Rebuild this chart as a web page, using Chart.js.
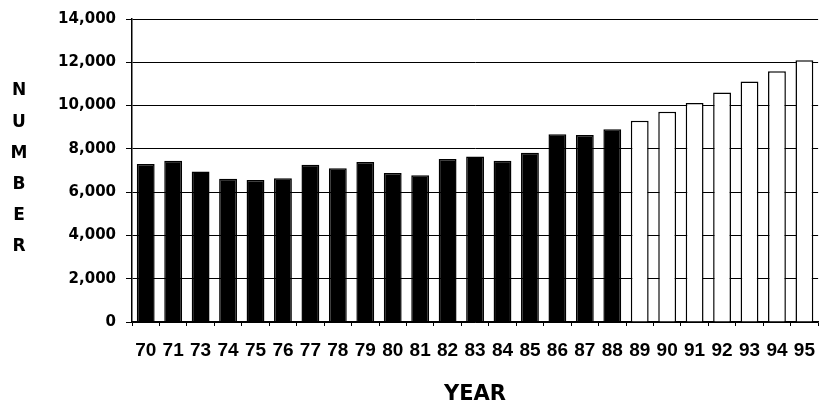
<!DOCTYPE html>
<html>
<head>
<meta charset="utf-8">
<script src="https://cdn.jsdelivr.net/npm/chart.js@4/dist/chart.umd.min.js"></script>
<style>
  html, body { margin: 0; padding: 0; background: #fff; }
  #wrap { width: 828px; height: 410px; position: relative; }
</style>
</head>
<body>
<div id="wrap"><canvas id="c" width="828" height="410"></canvas></div>
<script>
// Data
const years = ['70','71','73','74','75','76','77','78','79','80','81','82','83','84','85','86','87','88','89','90','91','92','93','94','95'];
const values = [7300,7450,6950,6620,6560,6640,7270,7100,7390,6890,6780,7530,7650,7450,7820,8670,8640,8910,9300,9710,10120,10600,11110,11590,12090];
const firstProjectedYear = '89';
const yTicks = [0,2000,4000,6000,8000,10000,12000,14000];
const yTitleLetters = ['N','U','M','B','E','R'];
const xTitle = 'YEAR';

const projStart = years.indexOf(firstProjectedYear);
const fills = years.map((y, i) => i >= projStart ? '#ffffff' : '#000000');

const stackedTitle = {
  id: 'stackedTitle',
  afterDraw(chart) {
    const ctx = chart.ctx;
    ctx.save();
    ctx.fillStyle = '#000';
    ctx.font = 'bold 17px "DejaVu Sans"';
    ctx.textAlign = 'center';
    ctx.textBaseline = 'middle';
    const top = 91, bottom = 247;
    const step = (bottom - top) / (yTitleLetters.length - 1);
    yTitleLetters.forEach((l, i) => ctx.fillText(l, 19, top + i * step));
    ctx.restore();
  }
};

new Chart(document.getElementById('c'), {
  type: 'bar',
  data: {
    labels: years,
    datasets: [{
      data: values,
      backgroundColor: fills,
      borderColor: '#000',
      borderWidth: 1.5,
      barPercentage: 0.65,
      categoryPercentage: 1.0
    }]
  },
  options: {
    responsive: false,
    animation: false,
    layout: { padding: { top: 18, right: 2, bottom: 0, left: 0 } },
    plugins: { legend: { display: false }, tooltip: { enabled: false } },
    scales: {
      x: {
        grid: { display: true, drawOnChartArea: false, drawTicks: true, tickLength: 4, color: '#000', offset: true },
        border: { display: true, color: '#000', width: 1.5 },
        ticks: { color: '#000', font: { family: 'Liberation Sans', weight: 'bold', size: 19 }, padding: 13, maxRotation: 0, autoSkip: false },
        title: { display: true, text: xTitle, color: '#000', font: { family: 'DejaVu Sans', weight: 'bold', size: 21 }, padding: { top: 0, bottom: 3 } },
        afterFit(scale) { scale.height = 88; }
      },
      y: {
        min: 0, max: 14000,
        afterBuildTicks(scale) { scale.ticks = yTicks.map(v => ({ value: v })); },
        grid: { color: '#000', lineWidth: 1, tickLength: 6, drawTicks: true },
        border: { display: true, color: '#000', width: 1.5 },
        ticks: {
          color: '#000',
          font: { family: 'DejaVu Sans', weight: 'bold', size: 15 },
          padding: 10,
          callback: v => v.toLocaleString('en-US')
        },
        afterFit(scale) { scale.width = 132; }
      }
    }
  },
  plugins: [stackedTitle]
});
</script>
</body>
</html>
